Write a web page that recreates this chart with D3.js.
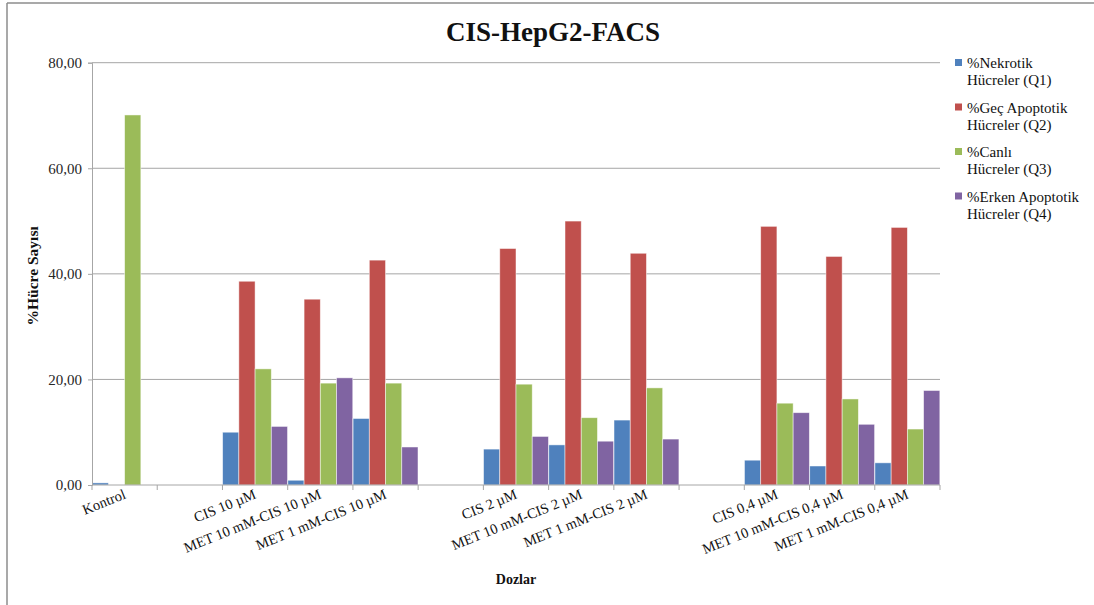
<!DOCTYPE html>
<html>
<head>
<meta charset="utf-8">
<script src="https://cdn.jsdelivr.net/npm/d3@7"></script>
<style>
  body { margin: 0; background: #fff; }
  svg { display: block; }
  text { font-family: "Liberation Serif", "Times New Roman", serif; }
</style>
</head>
<body>
<svg id="chart" width="1094" height="605"></svg>
<script>
// Dose groups (empty strings are spacer slots between dose families)
const categories = [
  "Kontrol", "", "CIS 10 µM", "MET 10 mM-CIS 10 µM", "MET 1 mM-CIS 10 µM",
  "", "CIS 2 µM", "MET 10 mM-CIS 2 µM", "MET 1 mM-CIS 2 µM",
  "", "CIS 0,4 µM", "MET 10 mM-CIS 0,4 µM", "MET 1 mM-CIS 0,4 µM"
];

const seriesNames = [
  ["%Nekrotik", "Hücreler (Q1)"],
  ["%Geç Apoptotik", "Hücreler (Q2)"],
  ["%Canlı", "Hücreler (Q3)"],
  ["%Erken Apoptotik", "Hücreler (Q4)"]
];

const nekrotik     = [0.4, null, 10.0, 0.9, 12.6, null, 6.8, 7.6, 12.3, null, 4.7, 3.6, 4.2];
const gecApoptotik = [0.0, null, 38.6, 35.2, 42.6, null, 44.8, 50.0, 43.9, null, 49.0, 43.3, 48.8];
const canli        = [70.1, null, 22.0, 19.3, 19.3, null, 19.1, 12.75, 18.4, null, 15.5, 16.3, 10.6];
const erkenApopt   = [0.0, null, 11.1, 20.3, 7.2, null, 9.2, 8.3, 8.7, null, 13.7, 11.5, 17.9];

const yTicks = [0, 20, 40, 60, 80];
const colors = ["#4F81BD", "#C0504D", "#9BBB59", "#8064A2"];
const seriesValues = [nekrotik, gecApoptotik, canli, erkenApopt];

const serif = "Liberation Serif, Times New Roman, serif";
const svg = d3.select("#chart");

// Outer chart frame (top and left edges)
svg.append("line").attr("x1", 7).attr("x2", 1094).attr("y1", 3).attr("y2", 3)
  .attr("stroke", "#8c8c8c").attr("stroke-width", 1.5);
svg.append("line").attr("x1", 7).attr("x2", 7).attr("y1", 3).attr("y2", 605)
  .attr("stroke", "#8c8c8c").attr("stroke-width", 1.5);

const plot = { left: 92, right: 940, top: 62.7, bottom: 485 };

const x = d3.scaleBand()
  .domain(d3.range(categories.length))
  .range([plot.left, plot.right])
  .paddingInner(0).paddingOuter(0);

const xInner = d3.scaleBand()
  .domain(d3.range(seriesValues.length))
  .range([0, x.bandwidth()])
  .paddingInner(0).paddingOuter(0.01);

const y = d3.scaleLinear().domain([0, 80]).range([plot.bottom, plot.top]);

// Horizontal gridlines
svg.append("g")
  .selectAll("line")
  .data(yTicks.filter(d => d > 0))
  .join("line")
  .attr("x1", plot.left).attr("x2", plot.right)
  .attr("y1", d => y(d)).attr("y2", d => y(d))
  .attr("stroke", "#a6a6a6").attr("stroke-width", 1);

// Bars
const groups = svg.append("g")
  .selectAll("g")
  .data(categories.map((c, i) => i))
  .join("g")
  .attr("transform", i => `translate(${x(i)},0)`);

groups.selectAll("rect")
  .data(i => seriesValues.map((s, k) => ({ k, v: s[i] })).filter(d => d.v !== null && d.v > 0))
  .join("rect")
  .attr("x", d => xInner(d.k))
  .attr("width", xInner.bandwidth())
  .attr("y", d => y(d.v))
  .attr("height", d => y(0) - y(d.v))
  .attr("fill", d => colors[d.k])
  .attr("stroke", "#ffffff")
  .attr("stroke-opacity", 0.6)
  .attr("stroke-width", 0.8);

// Y axis
const yAxis = d3.axisLeft(y)
  .tickValues(yTicks)
  .tickSize(4)
  .tickPadding(6)
  .tickFormat(d => d3.format(".2f")(d).replace(".", ","));

const yG = svg.append("g").attr("transform", `translate(${plot.left},0)`).call(yAxis);
yG.attr("font-family", serif);
yG.select(".domain").attr("stroke", "#a6a6a6");
yG.selectAll(".tick line").attr("stroke", "#a6a6a6");
yG.selectAll(".tick text")
  .attr("font-family", serif)
  .attr("font-size", 15).attr("fill", "#262626");

// X axis with boundary ticks
svg.append("line")
  .attr("x1", plot.left).attr("x2", plot.right)
  .attr("y1", plot.bottom).attr("y2", plot.bottom)
  .attr("stroke", "#a6a6a6");

const boundaries = d3.range(categories.length + 1).map(i =>
  i < categories.length ? x(i) : x(categories.length - 1) + x.bandwidth());
svg.append("g")
  .selectAll("line")
  .data(boundaries)
  .join("line")
  .attr("x1", d => d).attr("x2", d => d)
  .attr("y1", plot.bottom).attr("y2", plot.bottom + 5)
  .attr("stroke", "#a6a6a6");

// Category labels, rotated and anchored at group centre
svg.append("g")
  .selectAll("text")
  .data(categories.map((c, i) => ({ c, i })).filter(d => d.c !== ""))
  .join("text")
  .attr("transform", d => `translate(${x(d.i) + x.bandwidth() / 2 + 2},${plot.bottom + 13}) rotate(-22)`)
  .attr("text-anchor", "end")
  .attr("font-family", serif)
  .attr("font-size", 14.5)
  .attr("fill", "#111")
  .text(d => d.c);

// Title
svg.append("text")
  .attr("x", 553).attr("y", 41)
  .attr("text-anchor", "middle")
  .attr("font-family", serif)
  .attr("font-size", 27).attr("font-weight", "bold")
  .attr("fill", "#111")
  .text("CIS-HepG2-FACS");

// Axis titles
svg.append("text")
  .attr("transform", `translate(38,${(plot.top + plot.bottom) / 2 + 2}) rotate(-90)`)
  .attr("text-anchor", "middle")
  .attr("font-family", serif)
  .attr("font-size", 15.5).attr("font-weight", "bold")
  .attr("fill", "#111")
  .text("%Hücre Sayısı");

svg.append("text")
  .attr("x", 516).attr("y", 584)
  .attr("text-anchor", "middle")
  .attr("font-family", serif)
  .attr("font-size", 14).attr("font-weight", "bold")
  .attr("fill", "#111")
  .text("Dozlar");

// Legend
const legend = svg.append("g").attr("transform", "translate(955,0)");
const items = legend.selectAll("g")
  .data(seriesNames)
  .join("g")
  .attr("transform", (d, i) => `translate(0,${68 + i * 44.5})`);

items.append("rect")
  .attr("x", 0).attr("y", -9).attr("width", 7).attr("height", 7)
  .attr("fill", (d, i) => colors[i]);

items.append("text")
  .attr("x", 12).attr("y", 0)
  .attr("font-family", serif)
  .attr("font-size", 15).attr("fill", "#111")
  .text(d => d[0]);

items.append("text")
  .attr("x", 12).attr("y", 17)
  .attr("font-family", serif)
  .attr("font-size", 15).attr("fill", "#111")
  .text(d => d[1]);
</script>
</body>
</html>
